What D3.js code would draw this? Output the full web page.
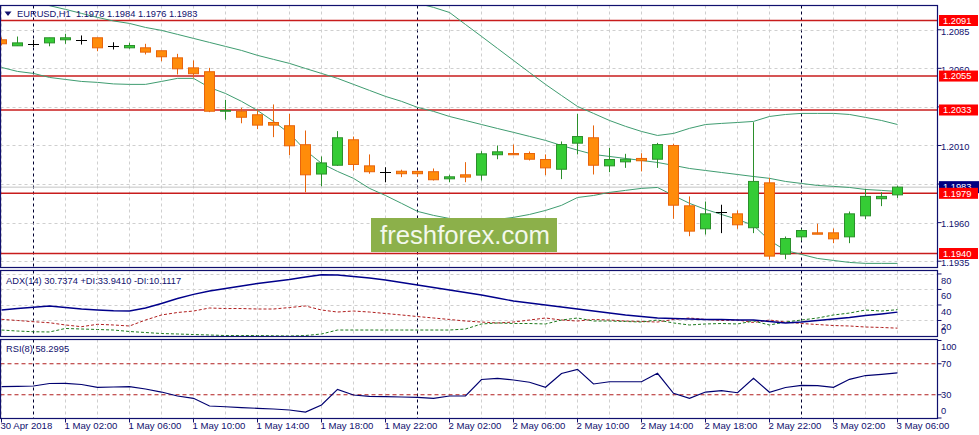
<!DOCTYPE html>
<html><head><meta charset="utf-8">
<script src="https://cdn.jsdelivr.net/npm/d3@7"></script>
<style>
body{margin:0;background:#fff;}
svg{display:block;}
text{font-family:"Liberation Sans",Arial,sans-serif;}
</style>
</head><body>
<svg id="chart" width="979" height="435"></svg>
<script>
// ---------------- DATA ----------------
const symbolTitle = "EURUSD,H1  1.1978 1.1984 1.1976 1.1983";
const adxTitle = "ADX(14) 30.7374 +DI:33.9410 -DI:10.1117";
const rsiTitle = "RSI(8) 58.2995";

const opens = [1.20785,1.20746,1.20759,1.20765,1.20785,1.20785,1.20798,1.20746,1.20733,1.20733,
1.20714,1.20668,1.20603,1.20578,1.20322,1.20322,1.20299,1.20249,1.20228,1.20105,
1.19915,1.19972,1.20137,1.19968,1.19925,1.19933,1.19932,1.19930,1.19884,1.19910,
1.19908,1.20040,1.20048,1.20048,1.20009,1.19946,1.20115,1.20150,1.19968,1.19994,
1.20016,1.20011,1.20100,1.19709,1.19560,1.19672,1.19657,1.19567,1.19858,1.19396,
1.19508,1.19534,1.19534,1.19508,1.19644,1.19755,1.19780];
const highs = [1.20800,1.20806,1.20785,1.20798,1.20824,1.20813,1.20798,1.20769,1.20765,1.20759,
1.20714,1.20694,1.20651,1.20603,1.20396,1.20344,1.20327,1.20366,1.20305,1.20197,
1.20029,1.20193,1.20158,1.20042,1.19959,1.19943,1.19938,1.19951,1.19910,1.19992,
1.20063,1.20100,1.20106,1.20061,1.20042,1.20126,1.20305,1.20230,1.20085,1.20046,
1.20050,1.20117,1.20111,1.19770,1.19737,1.19716,1.19679,1.20251,1.19891,1.19510,
1.19560,1.19593,1.19562,1.19672,1.19819,1.19797,1.19840];
const lows = [1.20748,1.20745,1.20737,1.20743,1.20759,1.20754,1.20711,1.20722,1.20727,1.20690,
1.20646,1.20560,1.20539,1.20316,1.20267,1.20244,1.20206,1.20154,1.20037,1.19797,
1.19836,1.19968,1.19938,1.19917,1.19862,1.19895,1.19899,1.19873,1.19862,1.19862,
1.19873,1.20011,1.20038,1.20003,1.19908,1.19882,1.20042,1.19912,1.19927,1.19955,
1.19932,1.19955,1.19625,1.19512,1.19523,1.19532,1.19560,1.19532,1.19361,1.19363,
1.19484,1.19525,1.19467,1.19467,1.19622,1.19707,1.19760];
const closes = [1.20759,1.20765,1.20759,1.20798,1.20798,1.20785,1.20733,1.20746,1.20748,1.20705,
1.20675,1.20597,1.20565,1.20322,1.20327,1.20283,1.20232,1.20232,1.20098,1.19910,
1.19987,1.20150,1.19977,1.19930,1.19925,1.19917,1.19917,1.19878,1.19897,1.19895,
1.20046,1.20059,1.20040,1.20011,1.19955,1.20106,1.20158,1.19972,1.20009,1.20011,
1.20001,1.20106,1.19713,1.19545,1.19657,1.19672,1.19586,1.19867,1.19383,1.19497,
1.19549,1.19525,1.19495,1.19657,1.19770,1.19770,1.19830];

const bbUpper = [1.21552,1.21526,1.21493,1.21471,1.21436,1.21397,1.21351,1.21315,1.21286,1.21234,
1.21177,1.21105,1.21053,1.21060,1.21047,1.21046,1.21041,1.21060,1.21086,1.21130,
1.21150,1.21138,1.21105,1.21092,1.21060,1.21047,1.21021,1.20995,1.20962,1.20884,
1.20807,1.20729,1.20651,1.20573,1.20496,1.20424,1.20353,1.20308,1.20262,1.20224,
1.20191,1.20165,1.20178,1.20211,1.20236,1.20243,1.20249,1.20256,1.20288,1.20301,
1.20308,1.20308,1.20308,1.20301,1.20282,1.20262,1.20236];
const bbMiddle = [1.21079,1.21053,1.21030,1.21006,1.20982,1.20956,1.20930,1.20907,1.20891,1.20865,
1.20846,1.20820,1.20794,1.20768,1.20742,1.20716,1.20684,1.20658,1.20632,1.20599,
1.20567,1.20535,1.20496,1.20457,1.20418,1.20386,1.20347,1.20321,1.20288,1.20262,
1.20236,1.20210,1.20185,1.20159,1.20133,1.20100,1.20070,1.20042,1.20029,1.20016,
1.20003,1.19990,1.19971,1.19951,1.19938,1.19925,1.19912,1.19899,1.19887,1.19867,
1.19854,1.19841,1.19835,1.19828,1.19815,1.19809,1.19802];
const bbLower = [1.20606,1.20580,1.20567,1.20541,1.20528,1.20515,1.20509,1.20499,1.20496,1.20496,
1.20515,1.20535,1.20535,1.20476,1.20437,1.20386,1.20327,1.20256,1.20178,1.20068,
1.19984,1.19932,1.19887,1.19822,1.19776,1.19725,1.19673,1.19647,1.19627,1.19621,
1.19614,1.19621,1.19634,1.19653,1.19679,1.19712,1.19763,1.19776,1.19796,1.19809,
1.19822,1.19828,1.19776,1.19725,1.19686,1.19653,1.19621,1.19582,1.19485,1.19420,
1.19394,1.19368,1.19355,1.19342,1.19336,1.19336,1.19336];

const adxMain = [33.5,35.4,37.0,38.7,36.7,34.8,33.5,32.6,32.2,36.1,
41.9,48.3,53.7,58.0,61.2,64.4,67.7,70.2,72.8,76.0,
79.0,78.6,76.7,74.7,72.2,68.9,65.7,62.5,59.3,56.1,
52.8,49.0,45.1,42.5,39.9,37.4,34.8,32.2,29.6,27.1,
25.1,23.2,22.6,21.9,21.3,21.3,20.6,20.6,18.7,16.8,
18.0,20.0,21.9,23.8,26.4,28.4,30.7374];
const plusDI = [7.7,6.4,5.5,5.2,9.7,9.0,8.4,7.7,5.8,4.5,
3.2,2.6,1.9,1.3,0.6,0.6,0.6,0.3,0.0,0.6,
2.6,7.7,7.7,7.7,7.7,7.7,7.7,7.7,7.7,9.0,
15.5,16.8,16.1,16.1,15.5,20.6,23.2,19.3,19.3,18.7,
18.0,20.6,16.8,14.2,15.5,16.1,15.5,19.3,14.2,18.0,
20.6,23.2,27.1,29.6,33.5,32.2,33.941];
const minusDI = [21.5,20.0,18.4,17.1,14.2,12.0,15.1,14.2,12.9,20.6,
27.1,30.3,32.2,36.1,35.4,35.4,34.8,34.8,36.7,38.7,
33.5,30.9,32.2,30.9,29.0,27.1,25.1,23.2,21.3,19.3,
18.0,16.8,18.0,20.6,23.2,20.6,19.3,21.3,20.6,19.3,
18.7,18.0,21.3,23.2,21.3,20.0,20.6,17.4,20.6,18.0,
16.1,14.8,13.5,12.9,11.6,11.0,10.1117];

const rsiValues = [40.6,40.9,41.3,44.5,44.8,43.2,39.6,40.0,40.4,37.4,
33.5,28.4,25.4,15.5,14.5,13.5,12.5,11.6,10.3,7.7,
16.8,37.0,29.7,28.0,27.5,27.1,26.7,25.4,28.4,28.4,
49.7,51.2,49.0,46.1,39.6,57.4,62.8,43.9,46.8,46.8,
46.8,57.7,31.9,25.4,33.5,35.2,32.6,51.2,33.2,39.4,
42.2,41.7,39.6,49.9,54.8,56.4,58.2995];

const levelLines = [1.2091, 1.2055, 1.2033, 1.1979, 1.1940];
const lastPrice = 1.1983;
const priceTicks = [1.2085, 1.2060, 1.2035, 1.2010, 1.1985, 1.1960, 1.1935];
const adxTicks = [80, 60, 40, 20];
const rsiTicks = [100, 70, 30, 0];
const rsiLevels = [70, 30];
const timeLabels = ["30 Apr 2018","1 May 02:00","1 May 06:00","1 May 10:00","1 May 14:00",
"1 May 18:00","1 May 22:00","2 May 02:00","2 May 06:00","2 May 10:00","2 May 14:00",
"2 May 18:00","2 May 22:00","3 May 02:00","3 May 06:00"];
const timeLabelBars = [0,4,8,12,16,20,24,28,32,36,40,44,48,52,56];
const daySeparatorBars = [2, 26, 50];
const watermark = "freshforex.com";

// ---------------- LAYOUT ----------------
const navy = "#10106e";
const L = 0.5, R = 937.5;
const P = {
  main: {top: 5.5, bottom: 267.5},
  adx: {top: 270.5, bottom: 336.5},
  rsi: {top: 339.5, bottom: 418.5}
};
const n = closes.length;
const x = d3.scaleLinear().domain([0, n - 1]).range([1.5, 897.5]);
const yMain = d3.scaleLinear().domain([1.2091, 1.1940]).range([20.5, 253.5]);
const yAdx = d3.scaleLinear().domain([0, 83.8]).range([336, 271]);
const yRsi = d3.scaleLinear().domain([0, 100]).range([418, 340.5]);

const svg = d3.select("#chart");
const defs = svg.append("defs");
Object.entries(P).forEach(([k, p]) => {
  defs.append("clipPath").attr("id", "clip-" + k).append("rect")
    .attr("x", L).attr("y", p.top).attr("width", R - L).attr("height", p.bottom - p.top);
});

// grids for each panel
Object.entries(P).forEach(([k, p]) => {
  const g = svg.append("g").attr("clip-path", `url(#clip-${k})`);
  d3.range(0, n, 2).forEach(i => {
    if (daySeparatorBars.includes(i)) return;
    g.append("line").attr("x1", x(i)).attr("x2", x(i)).attr("y1", p.top).attr("y2", p.bottom)
      .attr("stroke", "#cfcfcf").attr("stroke-dasharray", "3,3");
  });
  daySeparatorBars.forEach(i => {
    g.append("line").attr("x1", x(i)).attr("x2", x(i)).attr("y1", p.top).attr("y2", p.bottom)
      .attr("stroke", "#000030").attr("stroke-dasharray", "3,3");
  });
});
// horizontal grids
const gMainGrid = svg.append("g").attr("clip-path", "url(#clip-main)");
priceTicks.forEach(v => {
  const yy = Math.round(yMain(v)) + 0.5;
  gMainGrid.append("line").attr("x1", L).attr("x2", R).attr("y1", yy).attr("y2", yy)
    .attr("stroke", "#cfcfcf").attr("stroke-dasharray", "3,3");
});
const gAdxGrid = svg.append("g").attr("clip-path", "url(#clip-adx)");
adxTicks.forEach(v => {
  const yy = Math.round(yAdx(v)) + 0.5;
  gAdxGrid.append("line").attr("x1", L).attr("x2", R).attr("y1", yy).attr("y2", yy)
    .attr("stroke", "#cfcfcf").attr("stroke-dasharray", "3,3");
});

// ---------------- MAIN PANEL ----------------
const gm = svg.append("g").attr("clip-path", "url(#clip-main)");
// bid line
gm.append("line").attr("x1", L).attr("x2", R)
  .attr("y1", yMain(lastPrice)).attr("y2", yMain(lastPrice))
  .attr("stroke", "#c4c4c4").attr("stroke-width", 1);
// horizontal levels
levelLines.forEach(v => {
  gm.append("line").attr("x1", L).attr("x2", R).attr("y1", yMain(v)).attr("y2", yMain(v))
    .attr("stroke", "#c81c1c").attr("stroke-width", 1.4);
});
// Bollinger
const bbLine = arr => d3.line().x((d, i) => x(i)).y(d => yMain(d))(arr);
[bbUpper, bbMiddle, bbLower].forEach(arr => {
  gm.append("path").attr("d", bbLine(arr)).attr("fill", "none")
    .attr("stroke", "#3f9c70").attr("stroke-width", 1);
});
// candles
for (let i = 0; i < n; i++) {
  const o = opens[i], h = highs[i], l = lows[i], c = closes[i];
  const xc = x(i);
  const bull = c > o, bear = c < o;
  const stroke = bull ? "#2b8f2b" : bear ? "#e8640c" : "#000000";
  const fill = bull ? "#35cc35" : "#ff8c0a";
  gm.append("line").attr("x1", xc).attr("x2", xc).attr("y1", yMain(h)).attr("y2", yMain(l))
    .attr("stroke", stroke).attr("stroke-width", 1);
  if (!bull && !bear) {
    gm.append("line").attr("x1", xc - 5.5).attr("x2", xc + 5.5)
      .attr("y1", Math.round(yMain(c)) + 0.5).attr("y2", Math.round(yMain(c)) + 0.5)
      .attr("stroke", stroke).attr("stroke-width", 1);
  } else {
    const yt = yMain(Math.max(o, c)), yb = yMain(Math.min(o, c));
    gm.append("rect").attr("x", xc - 5).attr("width", 10)
      .attr("y", yt).attr("height", Math.max(yb - yt, 0.5))
      .attr("fill", fill).attr("stroke", stroke).attr("stroke-width", 1);
  }
}
// watermark
gm.append("rect").attr("x", 371).attr("y", 218).attr("width", 186).attr("height", 34)
  .attr("fill", "#8cb04a");
gm.append("text").attr("x", 465).attr("y", 244).attr("text-anchor", "middle")
  .attr("font-family", "'Open Sans', 'Noto Sans', sans-serif").attr("font-size", 25)
  .attr("textLength", 170).attr("lengthAdjust", "spacingAndGlyphs")
  .attr("fill", "#f3f8ec").text(watermark);
// title
svg.append("path").attr("d", "M4.5,11.5 L11.5,11.5 L8,16 Z").attr("fill", navy);
svg.append("text").attr("x", 17).attr("y", 16.5).attr("font-size", 9.3).attr("fill", navy)
  .attr("xml:space", "preserve").style("white-space", "pre").text(symbolTitle);

// ---------------- ADX PANEL ----------------
const ga = svg.append("g").attr("clip-path", "url(#clip-adx)");
const adxLine = d3.line().x((d, i) => x(i)).y(d => yAdx(d));
ga.append("path").attr("d", adxLine(minusDI)).attr("fill", "none")
  .attr("stroke", "#b01e1e").attr("stroke-width", 1).attr("stroke-dasharray", "3,2");
ga.append("path").attr("d", adxLine(plusDI)).attr("fill", "none")
  .attr("stroke", "#1e7a1e").attr("stroke-width", 1).attr("stroke-dasharray", "3,2");
ga.append("path").attr("d", adxLine(adxMain)).attr("fill", "none")
  .attr("stroke", "#00008b").attr("stroke-width", 1.4);
svg.append("text").attr("x", 6).attr("y", 284).attr("font-size", 9.3).attr("fill", navy).text(adxTitle);

// ---------------- RSI PANEL ----------------
const gr = svg.append("g").attr("clip-path", "url(#clip-rsi)");
rsiLevels.forEach(v => {
  gr.append("line").attr("x1", L).attr("x2", R).attr("y1", yRsi(v)).attr("y2", yRsi(v))
    .attr("stroke", "#b01e1e").attr("stroke-dasharray", "4,3");
});
gr.append("path").attr("d", d3.line().x((d, i) => x(i)).y(d => yRsi(d))(rsiValues))
  .attr("fill", "none").attr("stroke", "#000070").attr("stroke-width", 1.2);
svg.append("text").attr("x", 6).attr("y", 351.5).attr("font-size", 9.3).attr("fill", navy).text(rsiTitle);

// ---------------- FRAMES ----------------
Object.values(P).forEach(p => {
  svg.append("rect").attr("x", L).attr("y", p.top).attr("width", R - L).attr("height", p.bottom - p.top)
    .attr("fill", "none").attr("stroke", navy).attr("stroke-width", 1.2);
});

// ---------------- RIGHT AXES ----------------
const axisG = svg.append("g");
const labelBoxes = levelLines.map(v => yMain(v)).concat([yMain(lastPrice)]);
priceTicks.forEach(v => {
  const yy = yMain(v);
  axisG.append("line").attr("x1", R).attr("x2", R + 4).attr("y1", yy).attr("y2", yy).attr("stroke", navy);
  if (labelBoxes.some(b => Math.abs(b - yy) < 5)) return;
  axisG.append("text").attr("x", 941).attr("y", yy + 1.5).attr("dy", "0.35em")
    .attr("font-size", 9.3).attr("fill", navy).text(d3.format(".4f")(v));
});
// current price label (navy) then level labels (red)
axisG.append("rect").attr("x", 939).attr("y", yMain(lastPrice) - 6).attr("width", 40).attr("height", 12).attr("fill", "#000080");
axisG.append("text").attr("x", 943).attr("y", yMain(lastPrice)).attr("dy", "0.35em")
  .attr("font-size", 9.3).attr("fill", "#fff").text(d3.format(".4f")(lastPrice));
levelLines.forEach(v => {
  const yy = yMain(v);
  axisG.append("rect").attr("x", 939).attr("y", yy - 5.5).attr("width", 39).attr("height", 11).attr("fill", "#ff0000");
  axisG.append("text").attr("x", 943).attr("y", yy).attr("dy", "0.35em")
    .attr("font-size", 9.3).attr("fill", "#fff").text(d3.format(".4f")(v));
});
// ADX axis
adxTicks.forEach(v => {
  const yy = yAdx(v);
  axisG.append("line").attr("x1", R).attr("x2", R + 4).attr("y1", yy).attr("y2", yy).attr("stroke", navy);
  const ty = Math.max(yy + 6.5, P.adx.top + 7);
  axisG.append("text").attr("x", 941).attr("y", ty).attr("dy", "0.35em")
    .attr("font-size", 9.3).attr("fill", navy).text(v);
});
axisG.append("text").attr("x", 941).attr("y", P.adx.bottom - 6).attr("dy", "0.35em")
  .attr("font-size", 9.3).attr("fill", navy).text("0");
// RSI axis
rsiTicks.forEach(v => {
  const yy = yRsi(v);
  axisG.append("line").attr("x1", R).attr("x2", R + 4).attr("y1", yy).attr("y2", yy).attr("stroke", navy);
  const ty = Math.min(Math.max(yy, P.rsi.top + 7), P.rsi.bottom - 7.5);
  axisG.append("text").attr("x", 941).attr("y", ty).attr("dy", "0.35em")
    .attr("font-size", 9.3).attr("fill", navy).text(v);
});

// ---------------- TIME AXIS ----------------
timeLabelBars.forEach((b, k) => {
  const xx = x(b);
  axisG.append("line").attr("x1", xx).attr("x2", xx).attr("y1", P.rsi.bottom).attr("y2", P.rsi.bottom + 4).attr("stroke", navy);
  axisG.append("text").attr("x", xx - 1).attr("y", 429).attr("font-size", 9.6).attr("fill", navy).text(timeLabels[k]);
});
</script>
</body></html>
